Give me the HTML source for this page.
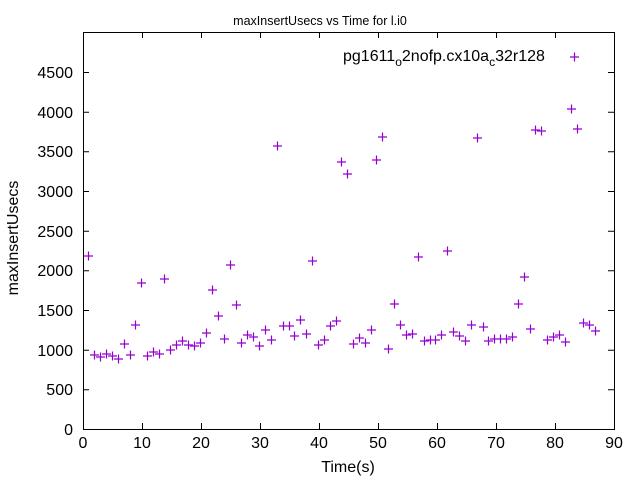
<!DOCTYPE html>
<html><head><style>body{margin:0;background:#fff}svg{display:block}text{font-family:"Liberation Sans",sans-serif;font-size:16px;fill:#000}</style></head>
<body>
<svg width="640" height="480" viewBox="0 0 640 480">
<rect width="640" height="480" fill="#fff"/>
<text x="320" y="25" text-anchor="middle" style="font-size:12.5px">maxInsertUsecs vs Time for l.i0</text>
<g stroke="#000" stroke-width="1" fill="none">
<rect x="83.5" y="32.5" width="531" height="397"/>
<path d="M83 429.5h6M614 429.5h-6M83 389.8h6M614 389.8h-6M83 350.2h6M614 350.2h-6M83 310.5h6M614 310.5h-6M83 270.8h6M614 270.8h-6M83 231.2h6M614 231.2h-6M83 191.5h6M614 191.5h-6M83 151.8h6M614 151.8h-6M83 112.2h6M614 112.2h-6M83 72.5h6M614 72.5h-6M83.5 429v-6M83.5 32v6M142.5 429v-6M142.5 32v6M201.5 429v-6M201.5 32v6M260.5 429v-6M260.5 32v6M319.5 429v-6M319.5 32v6M378.5 429v-6M378.5 32v6M437.5 429v-6M437.5 32v6M496.5 429v-6M496.5 32v6M555.5 429v-6M555.5 32v6M614.5 429v-6M614.5 32v6"/>
</g>
<g text-anchor="end">
<text x="73" y="435">0</text><text x="73" y="395">500</text><text x="73" y="356">1000</text><text x="73" y="316">1500</text><text x="73" y="276">2000</text><text x="73" y="237">2500</text><text x="73" y="197">3000</text><text x="73" y="157">3500</text><text x="73" y="118">4000</text><text x="73" y="78">4500</text>
</g>
<g text-anchor="middle">
<text x="83" y="448">0</text><text x="142" y="448">10</text><text x="201" y="448">20</text><text x="260" y="448">30</text><text x="319" y="448">40</text><text x="378" y="448">50</text><text x="437" y="448">60</text><text x="496" y="448">70</text><text x="555" y="448">80</text><text x="614" y="448">90</text>
<text x="348" y="472">Time(s)</text>
</g>
<text transform="translate(18,238) rotate(-90)" text-anchor="middle">maxInsertUsecs</text>
<text x="343" y="61">pg1611<tspan dy="5" style="font-size:12px">o</tspan><tspan dy="-5">2nofp.cx10a</tspan><tspan dy="5" style="font-size:12px">c</tspan><tspan dy="-5">32r128</tspan></text>
<path stroke="#9400d3" stroke-width="1.2" fill="none" d="M570 57h9M574.5 52.5v9M84 256h9M88.5 251.5v9M90 355h9M94.5 350.5v9M96 357h9M100.5 352.5v9M102 354h9M106.5 349.5v9M108 356h9M112.5 351.5v9M114 359h9M118.5 354.5v9M120 344h9M124.5 339.5v9M126 355h9M130.5 350.5v9M131 325h9M135.5 320.5v9M137 283h9M141.5 278.5v9M143 356h9M147.5 351.5v9M149 352h9M153.5 347.5v9M155 354h9M159.5 349.5v9M160 279h9M164.5 274.5v9M166 350h9M170.5 345.5v9M172 345h9M176.5 340.5v9M178 341h9M182.5 336.5v9M184 345h9M188.5 340.5v9M190 346h9M194.5 341.5v9M196 343h9M200.5 338.5v9M202 333h9M206.5 328.5v9M208 290h9M212.5 285.5v9M214 316h9M218.5 311.5v9M220 339h9M224.5 334.5v9M226 265h9M230.5 260.5v9M232 305h9M236.5 300.5v9M237 343h9M241.5 338.5v9M243 335h9M247.5 330.5v9M249 337h9M253.5 332.5v9M255 346h9M259.5 341.5v9M261 330h9M265.5 325.5v9M267 340h9M271.5 335.5v9M273 146h9M277.5 141.5v9M279 326h9M283.5 321.5v9M285 326h9M289.5 321.5v9M290 336h9M294.5 331.5v9M296 320h9M300.5 315.5v9M302 334h9M306.5 329.5v9M308 261h9M312.5 256.5v9M314 345h9M318.5 340.5v9M320 340h9M324.5 335.5v9M326 326h9M330.5 321.5v9M332 321h9M336.5 316.5v9M337 162h9M341.5 157.5v9M343 174h9M347.5 169.5v9M349 344h9M353.5 339.5v9M355 338h9M359.5 333.5v9M361 343h9M365.5 338.5v9M367 330h9M371.5 325.5v9M372 160h9M376.5 155.5v9M378 137h9M382.5 132.5v9M384 349h9M388.5 344.5v9M390 304h9M394.5 299.5v9M396 325h9M400.5 320.5v9M402 335h9M406.5 330.5v9M408 334h9M412.5 329.5v9M414 257h9M418.5 252.5v9M420 341h9M424.5 336.5v9M426 340h9M430.5 335.5v9M431 340h9M435.5 335.5v9M437 335h9M441.5 330.5v9M443 251h9M447.5 246.5v9M449 332h9M453.5 327.5v9M455 336h9M459.5 331.5v9M461 341h9M465.5 336.5v9M467 325h9M471.5 320.5v9M473 138h9M477.5 133.5v9M479 327h9M483.5 322.5v9M484 341h9M488.5 336.5v9M490 339h9M494.5 334.5v9M496 339h9M500.5 334.5v9M502 339h9M506.5 334.5v9M508 337h9M512.5 332.5v9M514 304h9M518.5 299.5v9M520 277h9M524.5 272.5v9M526 329h9M530.5 324.5v9M531 130h9M535.5 125.5v9M537 131h9M541.5 126.5v9M543 340h9M547.5 335.5v9M549 337h9M553.5 332.5v9M555 335h9M559.5 330.5v9M561 342h9M565.5 337.5v9M567 109h9M571.5 104.5v9M573 129h9M577.5 124.5v9M579 323h9M583.5 318.5v9M585 325h9M589.5 320.5v9M591 331h9M595.5 326.5v9"/>
</svg>
</body></html>
